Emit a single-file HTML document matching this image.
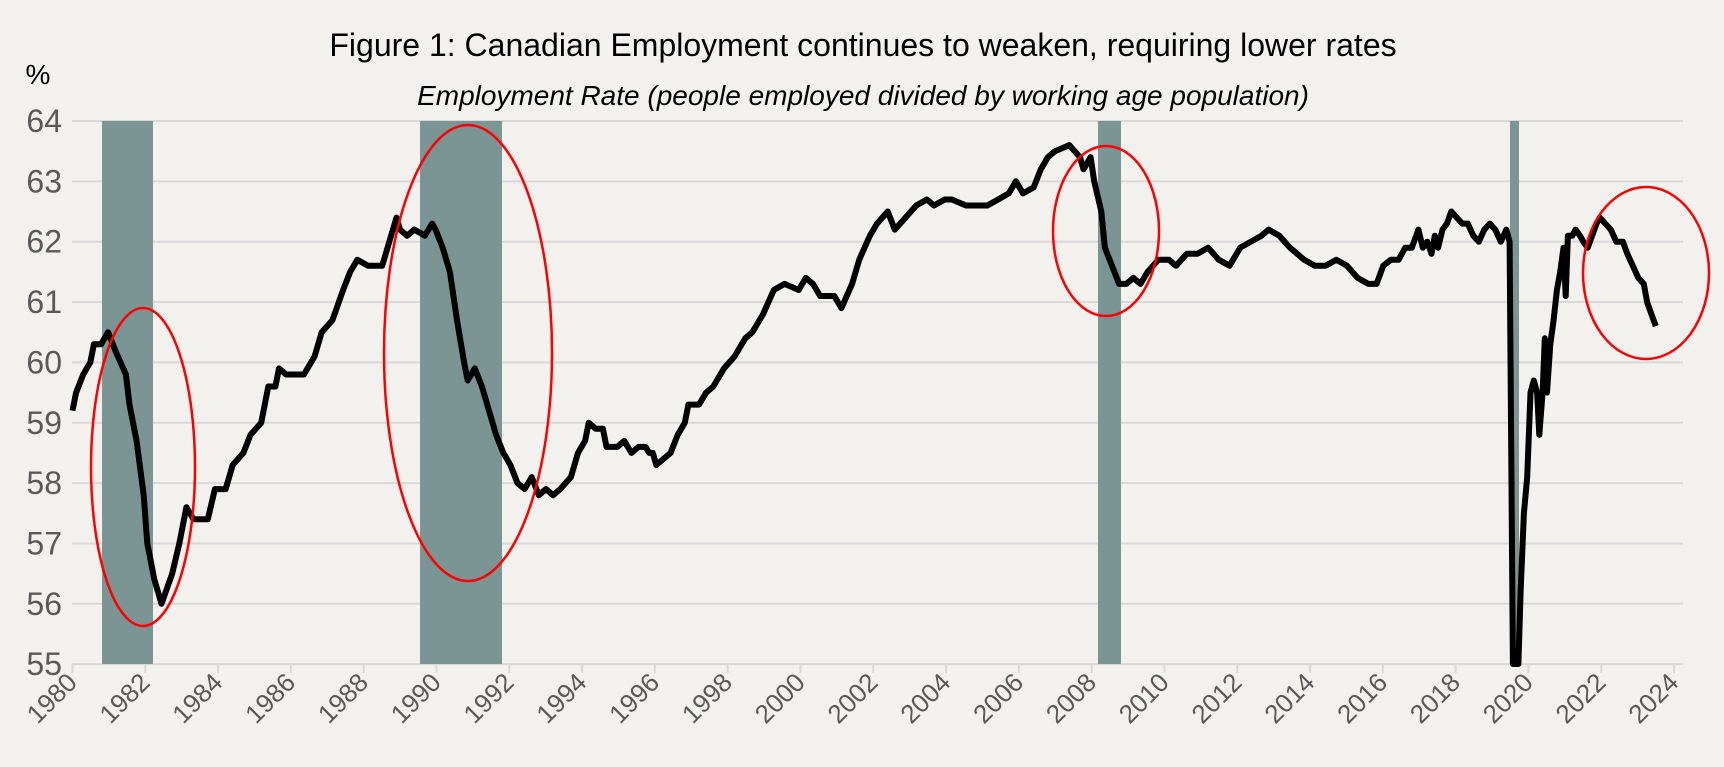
<!DOCTYPE html>
<html><head><meta charset="utf-8"><style>
html,body{margin:0;padding:0;background:#f2f1ed;}
svg{display:block;font-family:"Liberation Sans",sans-serif;}
</style></head><body>
<svg id="c" width="1724" height="767" viewBox="0 0 1724 767" xmlns="http://www.w3.org/2000/svg">
<rect width="1724" height="767" fill="#f2f1ed"/>
<text x="863" y="56" text-anchor="middle" font-size="32" fill="#000">Figure 1: Canadian Employment continues to weaken, requiring lower rates</text>
<text x="863" y="105" text-anchor="middle" font-size="28" font-style="italic" fill="#000">Employment Rate (people employed divided by working age population)</text>
<text x="38" y="84" text-anchor="middle" font-size="28" fill="#000">%</text>
<g id="grid"></g>
<g fill="#7a9594">
<rect x="102" y="121" width="51" height="543"/>
<rect x="420" y="121" width="82" height="543"/>
<rect x="1098" y="121" width="23" height="543"/>
<rect x="1510" y="121" width="9" height="543"/>
</g>
<g id="line"></g>
<g fill="none" stroke="#ff0000" stroke-width="2.5">
<ellipse cx="143" cy="467" rx="52" ry="159"/>
<ellipse cx="468" cy="353" rx="84" ry="228"/>
<ellipse cx="1106" cy="231" rx="53" ry="85"/>
<ellipse cx="1646" cy="273" rx="63" ry="86"/>
</g>
</svg>
<script>
function Y(v){return 121+(64-v)*60.35;}
function X(yr){return 72.5+36.4*(yr-1980);}
var g=document.getElementById('grid'),s='';
for(var v=55;v<=64;v++){var y=Y(v);
s+='<line x1="72" x2="1683" y1="'+y+'" y2="'+y+'" stroke="#d9d8d8" stroke-width="2"/>';
s+='<text x="62" y="'+(y+11)+'" text-anchor="end" font-size="32" fill="#595959">'+v+'</text>';}
for(var yr=1980;yr<=2024;yr+=2){var x=X(yr);
s+='<line x1="'+x+'" x2="'+x+'" y1="664" y2="673" stroke="#d9d8d8" stroke-width="2"/>';
s+='<text transform="translate('+(x+6)+',684) rotate(-45)" text-anchor="end" font-size="26" fill="#595959">'+yr+'</text>';}
g.innerHTML=s;
var A=[1980.0,59.2,1980.1,59.5,1980.3,59.8,1980.5,60.0,1980.6,60.3,1980.8,60.3,1981.0,60.5,1981.2,60.2,1981.5,59.8,1981.6,59.3,1981.8,58.7,1982.0,57.8,1982.1,57.0,1982.3,56.4,1982.5,56.0,1982.8,56.5,1983.0,57.0,1983.2,57.6,1983.4,57.4,1983.6,57.4,1983.8,57.4,1984.0,57.9,1984.3,57.9,1984.5,58.3,1984.8,58.5,1985.0,58.8,1985.3,59.0,1985.5,59.6,1985.7,59.6,1985.8,59.9,1986.0,59.8,1986.3,59.8,1986.5,59.8,1986.8,60.1,1987.0,60.5,1987.3,60.7,1987.6,61.2,1987.8,61.5,1988.0,61.7,1988.3,61.6,1988.7,61.6,1988.9,62.0,1989.0,62.2,1989.1,62.4,1989.2,62.2,1989.4,62.1,1989.6,62.2,1989.9,62.1,1990.1,62.3,1990.2,62.2,1990.4,61.9,1990.6,61.5,1990.8,60.7,1991.0,60.0,1991.1,59.7,1991.3,59.9,1991.5,59.6,1991.7,59.2,1991.9,58.8,1992.1,58.5,1992.3,58.3,1992.5,58.0,1992.7,57.9,1992.9,58.1,1993.1,57.8,1993.3,57.9,1993.5,57.8,1993.7,57.9,1994.0,58.1,1994.2,58.5,1994.4,58.7,1994.5,59.0,1994.7,58.9,1994.9,58.9,1995.0,58.6,1995.3,58.6,1995.5,58.7,1995.7,58.5,1995.9,58.6,1996.1,58.6,1996.2,58.5,1996.3,58.5,1996.4,58.3,1996.6,58.4,1996.8,58.5,1997.0,58.8,1997.2,59.0,1997.3,59.3,1997.6,59.3,1997.8,59.5,1998.0,59.6,1998.3,59.9,1998.6,60.1,1998.9,60.4,1999.1,60.5,1999.4,60.8,1999.7,61.2,2000.0,61.3,2000.4,61.2,2000.6,61.4,2000.8,61.3,2001.0,61.1,2001.4,61.1,2001.6,60.9,2001.9,61.3,2002.1,61.7,2002.4,62.1,2002.6,62.3,2002.9,62.5,2003.1,62.2,2003.4,62.4,2003.7,62.6,2004.0,62.7,2004.2,62.6,2004.5,62.7,2004.7,62.7,2005.1,62.6,2005.4,62.6,2005.7,62.6,2006.0,62.7,2006.3,62.8,2006.5,63.0,2006.7,62.8,2007.0,62.9,2007.2,63.2,2007.4,63.4,2007.6,63.5,2008.0,63.6,2008.3,63.4,2008.4,63.2,2008.6,63.4,2008.7,63.0,2008.9,62.5,2009.0,61.9,2009.2,61.6,2009.4,61.3,2009.6,61.3,2009.8,61.4,2010.0,61.3,2010.2,61.5,2010.5,61.7,2010.8,61.7,2011.0,61.6,2011.3,61.8,2011.6,61.8,2011.9,61.9,2012.2,61.7,2012.5,61.6,2012.8,61.9,2013.1,62.0,2013.4,62.1,2013.6,62.2,2013.9,62.1,2014.2,61.9,2014.6,61.7,2014.9,61.6,2015.2,61.6,2015.5,61.7,2015.8,61.6,2016.1,61.4,2016.4,61.3];
var B=[1252,61.3,1258,61.6,1265,61.7,1272,61.7,1278,61.9,1284,61.9,1290,62.2,1294,61.9,1298,62.0,1302,61.8,1305,62.1,1308,61.9,1312,62.2,1316,62.3,1320,62.5,1325,62.4,1330,62.3,1335,62.3,1340,62.1,1345,62.0,1350,62.2,1355,62.3,1360,62.2,1365,62.0,1370,62.2,1373,62.0,1376,54.9,1381,54.9,1383,56.2,1386,57.5,1389,58.1,1392,59.5,1395,59.7,1398,59.5,1400,58.8,1403,59.5,1405,60.4,1407,59.5,1410,60.3,1413,60.7,1416,61.2,1419,61.5,1422,61.9,1424,61.1,1426,62.1,1430,62.1,1433,62.2,1437,62.1,1440,62.0,1444,61.9,1448,62.1,1452,62.3,1455,62.4,1460,62.3,1465,62.2,1470,62.0,1476,62.0,1480,61.8,1485,61.6,1490,61.4,1495,61.3,1498,61.0,1502,60.8,1506,60.6];
var p=[];
for(var i=0;i<A.length;i+=2){var yr=1980+(A[i]-1980)*0.978;p.push(X(yr).toFixed(1)+','+Y(A[i+1]).toFixed(1));}
for(var i=0;i<B.length;i+=2)p.push((B[i]*1.0995).toFixed(1)+','+Math.min(Y(B[i+1]),664).toFixed(1));
document.getElementById('line').innerHTML='<polyline points="'+p.join(' ')+'" fill="none" stroke="#000" stroke-width="6" stroke-linejoin="round"/>';
</script>
</body></html>
